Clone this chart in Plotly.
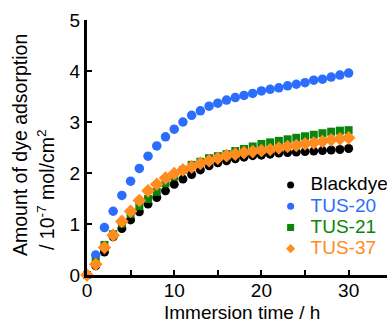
import plotly.graph_objects as go

time_h = list(range(0, 31))

blackdye = [0.00, 0.18, 0.45, 0.75, 0.91, 1.08, 1.24, 1.39, 1.52, 1.65, 1.78,
            1.88, 1.97, 2.06, 2.14, 2.20, 2.24, 2.28, 2.31, 2.34, 2.35,
            2.37, 2.39, 2.40, 2.41, 2.42, 2.43, 2.44, 2.45, 2.46, 2.48]
tus20 = [0.00, 0.39, 0.93, 1.25, 1.56, 1.84, 2.09, 2.33, 2.53, 2.71, 2.86,
         3.00, 3.13, 3.22, 3.31, 3.37, 3.43, 3.48, 3.52, 3.56, 3.61,
         3.64, 3.67, 3.71, 3.74, 3.77, 3.82, 3.84, 3.88, 3.92, 3.96]
tus21 = [0.00, 0.26, 0.59, 0.80, 1.01, 1.20, 1.35, 1.49, 1.63, 1.80, 1.93,
         2.06, 2.16, 2.22, 2.29, 2.33, 2.37, 2.43, 2.47, 2.52, 2.57,
         2.60, 2.63, 2.66, 2.69, 2.72, 2.75, 2.78, 2.81, 2.83, 2.84]
tus37 = [0.00, 0.21, 0.54, 0.78, 1.05, 1.25, 1.46, 1.65, 1.78, 1.90, 1.99,
         2.06, 2.12, 2.19, 2.24, 2.29, 2.34, 2.37, 2.40, 2.42, 2.44,
         2.46, 2.49, 2.52, 2.54, 2.57, 2.59, 2.62, 2.65, 2.67, 2.69]

series = [
    ("Blackdye", blackdye, "#000000", "circle", 9),
    ("TUS-20", tus20, "#2b6dff", "circle", 9.5),
    ("TUS-21", tus21, "#0a840a", "square", 8),
    ("TUS-37", tus37, "#ff8c1e", "diamond", 10.5),
]

FONT = "Liberation Sans, Arial, sans-serif"
FS = 19
fig = go.Figure()

for name, vals, color, sym, size in series:
    fig.add_trace(go.Scatter(
        x=time_h, y=vals, mode="markers", showlegend=False,
        marker=dict(color=color, symbol=sym, size=size, line=dict(width=0)),
        cliponaxis=False,
    ))

for name, vals, color, sym, size in series:
    fig.add_trace(go.Scatter(
        x=[None], y=[None], mode="markers",
        name=f"<span style='color:{color};font-size:{FS}px'>{name}</span>",
        marker=dict(color=color, symbol=sym, size=7, line=dict(width=0)),
    ))

fig.update_layout(
    width=387, height=324,
    margin=dict(l=87, r=0, t=20, b=49, autoexpand=False),
    paper_bgcolor="white", plot_bgcolor="white",
    font=dict(family=FONT, size=FS, color="black"),
    showlegend=True,
    legend=dict(x=0.612, y=0.414, xanchor="left", yanchor="top",
                bgcolor="rgba(0,0,0,0)", itemwidth=30,
                font=dict(size=14, family=FONT), tracegroupgap=0),
    xaxis=dict(range=[0, 34.4], showgrid=False, zeroline=False,
               showline=True, linecolor="black", linewidth=3,
               ticks="inside", ticklen=5, tickwidth=2, tickcolor="black",
               tick0=0, dtick=10,
               minor=dict(dtick=5, ticks="inside", ticklen=5, tickwidth=2,
                          tickcolor="black", showgrid=False),
               ticklabelstandoff=-4,
               tickfont=dict(size=FS)),
    yaxis=dict(range=[0, 5], showgrid=False, zeroline=False,
               showline=True, linecolor="black", linewidth=3,
               ticks="inside", ticklen=5, tickwidth=2, tickcolor="black",
               tick0=0, dtick=1,
               tickfont=dict(size=FS)),
    annotations=[
        dict(text="Immersion time / h", xref="paper", yref="paper",
             x=(241.5 - 87) / 300, y=-49 / 255, showarrow=False, borderpad=0,
             xanchor="center", yanchor="bottom", font=dict(size=FS)),
        dict(text="Amount of dye adsorption", xref="paper", yref="paper",
             x=-(87 - 20) / 300, y=(275 - 145) / 255, showarrow=False,
             textangle=-90, xanchor="center", yanchor="middle",
             font=dict(size=19.5)),
        dict(text="/ 10<sup>-7</sup> mol/cm<sup>2</sup>", xref="paper", yref="paper",
             x=-(87 - 46) / 300, y=(275 - 190) / 255, showarrow=False,
             textangle=-90, xanchor="center", yanchor="middle",
             font=dict(size=19.5)),
    ],
)

fig.write_html("out.html", config={"displayModeBar": False},
               post_script="document.body.style.margin='0';document.body.style.padding='0';")
